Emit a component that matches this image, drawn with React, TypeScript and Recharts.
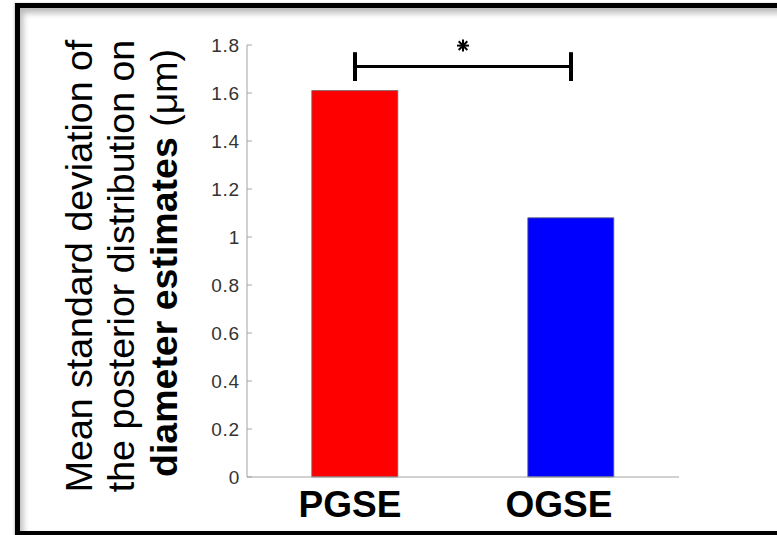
import React from "react";
import { BarChart, Bar, Cell, XAxis, YAxis, ReferenceLine } from "recharts";

// mean posterior SD of the diameter estimates, per acquisition scheme
const categories = ["PGSE", "OGSE"];
const meanSd = [1.61, 1.08];
const barColors = ["#ff0000", "#0000ff"];
const yTicks = [0, 0.2, 0.4, 0.6, 0.8, 1, 1.2, 1.4, 1.6, 1.8];

// significance bracket between the two bars
const bracketLevel = 1.71;
const capBottom = 1.65;
const capTop = 1.77;

const data = categories.map((name, i) => ({ name, sd: meanSd[i] }));

const FONT = "'Liberation Sans', Arial, Helvetica, sans-serif";
const AXIS_GREY = "#a3a3a3";
const labelShift = [-5, -12];

const CategoryTick = ({ x, y, payload, index }: any) => (
  <text
    x={x + (labelShift[index] ?? 0)}
    y={y + 40}
    textAnchor="middle"
    fontFamily={FONT}
    fontWeight="bold"
    fontSize={37}
    fill="#000"
  >
    {payload.value}
  </text>
);

const ValueTick = ({ x, y, payload }: any) => (
  <text
    x={x}
    y={y}
    textAnchor="end"
    dominantBaseline="central"
    fontFamily={FONT}
    fontSize={19}
    letterSpacing={0.8}
    fill="#333"
  >
    {payload.value}
  </text>
);

const YTitle = ({ viewBox }: any) => {
  const cy = viewBox.y + viewBox.height / 2 + 5;
  const base = viewBox.x;
  const lines = [
    { x: base - 95, y: cy, text: <>Mean standard deviation of</> },
    { x: base - 53, y: cy, text: <>the posterior distribution on</> },
    {
      x: base - 10,
      y: cy - 3,
      text: (
        <>
          <tspan fontWeight="bold">diameter estimates</tspan>
          {" (μm)"}
        </>
      ),
    },
  ];
  return (
    <g fontFamily={FONT} fontSize={37.5} fill="#000">
      {lines.map((l, i) => (
        <text key={i} x={l.x} y={l.y} textAnchor="middle" transform={`rotate(-90 ${l.x} ${l.y})`}>
          {l.text}
        </text>
      ))}
    </g>
  );
};

// MATLAB-style '*' marker: a plus and a cross overlaid
const StarMark = ({ viewBox }: any) => {
  const cx = viewBox.x + viewBox.width / 2;
  const cy = viewBox.y - 21;
  const r = 6;
  const d = r * 0.72;
  return (
    <g stroke="#000" strokeWidth={2}>
      <line x1={cx - r} y1={cy} x2={cx + r} y2={cy} />
      <line x1={cx} y1={cy - r} x2={cx} y2={cy + r} />
      <line x1={cx - d} y1={cy - d} x2={cx + d} y2={cy + d} />
      <line x1={cx - d} y1={cy + d} x2={cx + d} y2={cy - d} />
    </g>
  );
};

export default function App() {
  return (
    <div style={{ position: "absolute", left: 0, top: 0, width: 777, height: 535, overflow: "hidden", background: "#fff" }}>
      <div
        style={{
          position: "absolute",
          left: 15,
          top: 3,
          width: 800,
          height: 533,
          boxSizing: "border-box",
          borderTop: "5px solid #000",
          borderLeft: "5px solid #000",
          borderBottom: "5px solid #000",
          boxShadow: "inset 3px 5px 6px rgba(0,0,0,0.28), -1px 0 2px rgba(0,0,0,0.2)",
        }}
      />
      <div style={{ position: "absolute", left: 0, top: 0 }}>
        <BarChart
          width={777}
          height={535}
          data={data}
          margin={{ top: 45, right: 98, bottom: 0, left: 187 }}
          barCategoryGap="30%"
        >
          <XAxis
            dataKey="name"
            type="category"
            tick={<CategoryTick />}
            tickLine={false}
            tickSize={0}
            tickMargin={0}
            height={58}
            axisLine={{ stroke: AXIS_GREY }}
            interval={0}
          />
          <XAxis
            xAxisId="top"
            dataKey="name"
            type="category"
            orientation="top"
            height={0}
            tick={false}
            tickSize={-5}
            tickLine={{ stroke: AXIS_GREY }}
            axisLine={{ stroke: AXIS_GREY }}
          />
          <YAxis
            domain={[0, 1.8]}
            ticks={yTicks}
            width={60}
            tickSize={-5}
            tickMargin={12}
            interval={0}
            tick={<ValueTick />}
            tickLine={{ stroke: AXIS_GREY }}
            axisLine={{ stroke: AXIS_GREY }}
            label={{ content: <YTitle /> }}
          />
          <YAxis
            yAxisId="right"
            orientation="right"
            domain={[0, 1.8]}
            ticks={yTicks}
            width={0}
            tick={false}
            tickSize={-5}
            tickLine={{ stroke: AXIS_GREY }}
            axisLine={{ stroke: AXIS_GREY }}
          />
          <Bar dataKey="sd" stroke="#666" strokeWidth={0.8} isAnimationActive={false}>
            {data.map((d, i) => (
              <Cell key={d.name} fill={barColors[i]} />
            ))}
          </Bar>
          <ReferenceLine
            segment={[
              { x: categories[0], y: bracketLevel },
              { x: categories[1], y: bracketLevel },
            ]}
            stroke="#000"
            strokeWidth={3}
            ifOverflow="visible"
            label={{ content: <StarMark /> }}
          />
          {categories.map((c) => (
            <ReferenceLine
              key={c}
              segment={[
                { x: c, y: capBottom },
                { x: c, y: capTop },
              ]}
              stroke="#000"
              strokeWidth={4}
              ifOverflow="visible"
            />
          ))}
        </BarChart>
      </div>
    </div>
  );
}
